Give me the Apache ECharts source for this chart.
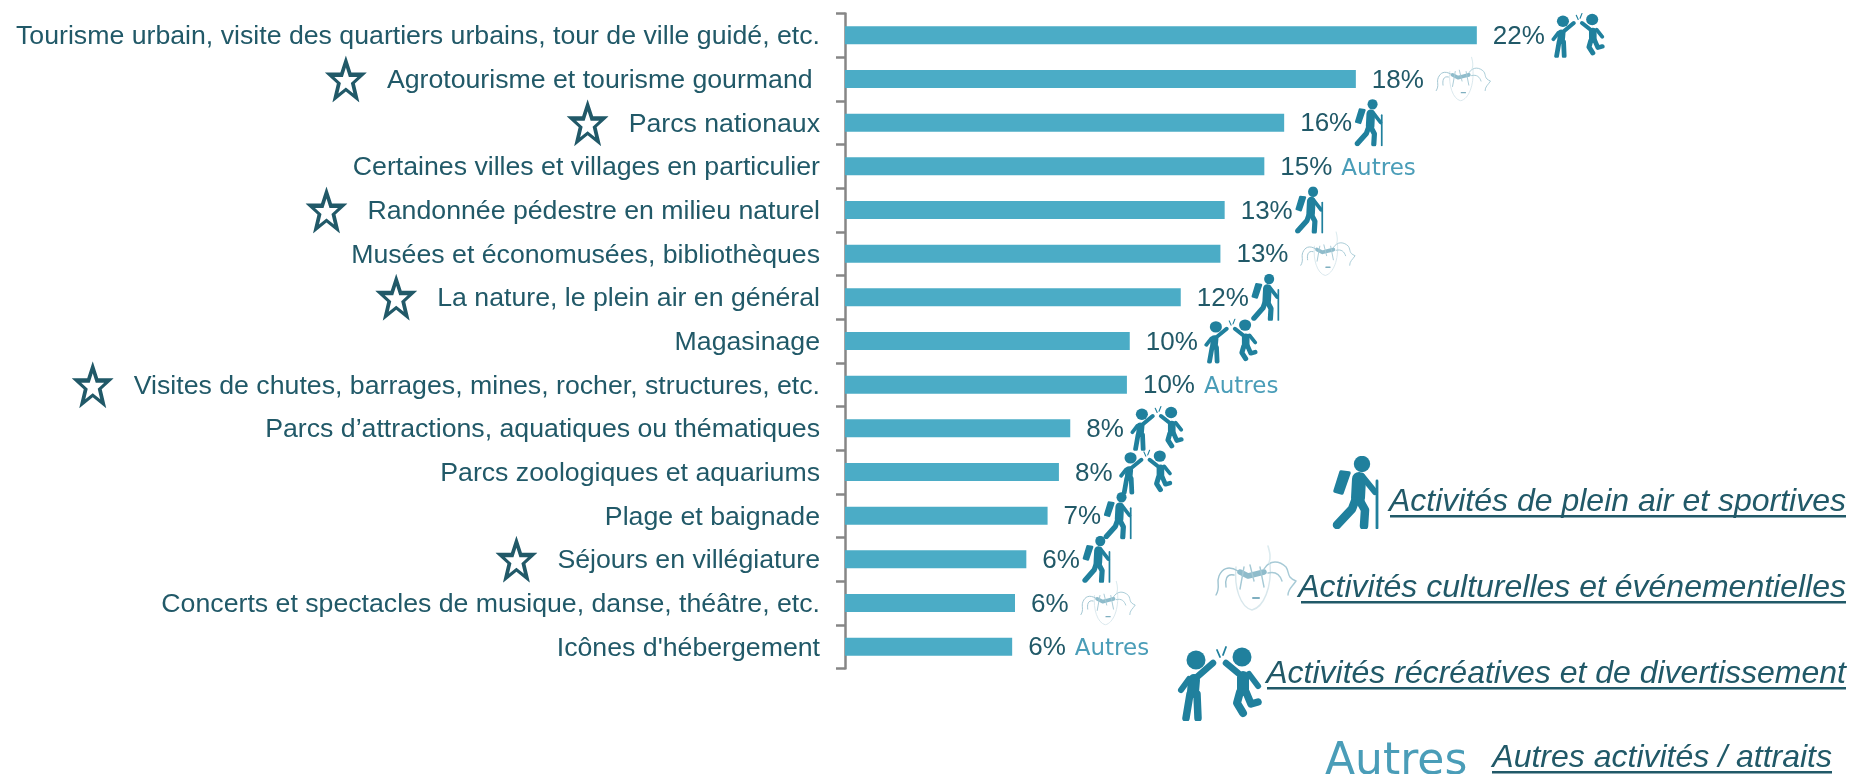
<!DOCTYPE html>
<html><head><meta charset="utf-8">
<style>html,body{margin:0;padding:0;background:#fff;overflow:hidden}#c{width:1851px;height:774px}</style>
<script src="https://cdn.jsdelivr.net/npm/echarts@6/dist/echarts.min.js"></script>
</head><body><div id="c"></div>
<script>
const categories = [
 "Tourisme urbain, visite des quartiers urbains, tour de ville guidé, etc.",
 "Agrotourisme et tourisme gourmand ",
 "Parcs nationaux",
 "Certaines villes et villages en particulier",
 "Randonnée pédestre en milieu naturel",
 "Musées et économusées, bibliothèques",
 "La nature, le plein air en général",
 "Magasinage",
 "Visites de chutes, barrages, mines, rocher, structures, etc.",
 "Parcs d’attractions, aquatiques ou thématiques",
 "Parcs zoologiques et aquariums",
 "Plage et baignade",
 "Séjours en villégiature",
 "Concerts et spectacles de musique, danse, théâtre, etc.",
 "Icônes d'hébergement"
];
const values = [22.3,18.03,15.5,14.8,13.4,13.25,11.85,10.05,9.95,7.95,7.55,7.15,6.4,6.0,5.9];
const valueLabels = ["22%","18%","16%","15%","13%","13%","12%","10%","10%","8%","8%","7%","6%","6%","6%"];
const iconKinds = ["fun","culture","hike","other","hike","culture","hike","fun","other","fun","fun","hike","hike","culture","other"];
const starred = [1,4,2,6,8,12];
const legendLabels = ["Activités de plein air et sportives","Activités culturelles et événementielles","Activités récréatives et de divertissement","Autres activités / attraits"];

const dark = "#215968", bar = "#4BACC6", iconC = "#20809d";
const svg = s => "data:image/svg+xml;charset=utf-8," + encodeURIComponent(s);
const hikeSvg = svg(`<svg xmlns="http://www.w3.org/2000/svg" viewBox="0 0 49 73" width="98" height="146"><g fill="none" stroke="${iconC}" stroke-linecap="round" stroke-linejoin="round"><path d="M27 23L26 42" stroke-width="14"/><path d="M30 20L43 36" stroke-width="6"/><path d="M23 45L20 53L5 69" stroke-width="8.500"/><path d="M28 45L33 54L32 70" stroke-width="8.500"/><path d="M45 25V72" stroke-width="2.8"/><path d="M9 16L17 17L10 37L3 35Z" fill="${iconC}" stroke-width="3.500"/></g><circle cx="30" cy="8" r="8.2" fill="${iconC}"/></svg>`);
const funSvg = svg(`<svg xmlns="http://www.w3.org/2000/svg" viewBox="0 0 85 75" width="170" height="150"><g fill="none" stroke="${iconC}" stroke-linecap="round" stroke-linejoin="round"><path d="M17 34L16 46" stroke-width="12"/><path d="M13 48L9 72" stroke-width="7.500"/><path d="M20 48L21 72" stroke-width="7.500"/><path d="M20 31L36 17" stroke-width="6.500"/><path d="M12 33L4 44" stroke-width="6"/><path d="M66 31L66 44" stroke-width="12"/><path d="M61 27L49 17" stroke-width="6.500"/><path d="M72 28L81 40" stroke-width="6"/><path d="M63 46L60 57L66 67" stroke-width="8"/><path d="M69 46L74 58L81 56" stroke-width="7.500"/><path d="M40 4L43 11M49 1L46 9" stroke-width="1.8"/></g><circle cx="19" cy="14" r="9.500" fill="${iconC}"/><circle cx="65" cy="11" r="9.500" fill="${iconC}"/></svg>`);
const cultureSvg = svg(`<svg xmlns="http://www.w3.org/2000/svg" viewBox="0 0 84 66" width="168" height="132"><g fill="none" stroke-linecap="round" stroke-linejoin="round"><path d="M22 22C20 42 26 62 38 65C50 62 58 42 56 18" stroke="#d8e7ec" stroke-width="1.4"/><path d="M24 26C14 20 8 24 5 31C2 38 7 42 2 50M20 30C12 28 11 36 12 42" stroke="#9fc4d1" stroke-width="1.4"/><path d="M50 24C56 14 66 16 72 22C76 28 72 32 82 36C78 42 74 44 74 50M54 28C62 26 66 30 68 36" stroke="#a7cad6" stroke-width="1.4"/><path d="M54 1C56 8 57 12 55 18" stroke="#dcebef" stroke-width="1.6"/><path d="M26 27L34 31L42 29L50 27" stroke="#8fbccb" stroke-width="5.500"/><path d="M36 20L40 36M30 22L26 44M46 22L50 42" stroke="#a5c9d5" stroke-width="1.4"/><path d="M39 53L45 53" stroke="#7fafc0" stroke-width="2"/></g></svg>`);
const starSvg = svg(`<svg xmlns="http://www.w3.org/2000/svg" viewBox="0 0 42 47" width="84" height="94"><path d="M21 0L26.5 17H42L30 28L34.5 47L21 36L7.5 47L12 28L0 17H15.500Z" fill="${dark}"/><path d="M21 12L24 21.500H32.500L26 27.500L28.500 38L21 32L13.500 38L16 27.500L9.500 21.500H18Z" fill="#fff"/></svg>`);

const rich = {
  v:{fontSize:26,color:dark,fontFamily:"Liberation Sans",padding:[3,0,0,0]},
  fun:{width:54,height:45,backgroundColor:{image:funSvg}},
  hike:{width:30,height:47,backgroundColor:{image:hikeSvg}},
  culture:{width:57,height:45,backgroundColor:{image:cultureSvg}},
  other:{fontSize:23,color:"#4a9db8",fontFamily:"DejaVu Sans",padding:[5,0,0,0]},
  gfun:{width:6},ghike:{width:2},gculture:{width:11},gother:{width:9}
};
const labelFor = i => {
  const k = iconKinds[i];
  const icon = k === "other" ? "{other|Autres}" : `{${k}|}`;
  return `{v|${valueLabels[i]}}{g${k}|}${icon}`;
};
const legendY = [515,601,687,771];
const legendX = [1390,1301,1267,1492];
const legendEnd = [1846,1846,1846,1832];
const graphic = [];
legendLabels.forEach((t,i)=>{
  graphic.push({type:"text",x:legendEnd[i],y:legendY[i]+3,style:{text:t,align:"right",verticalAlign:"bottom",fill:dark,font:"italic 32px 'Liberation Sans'"}});
  graphic.push({type:"rect",shape:{x:legendX[i],y:legendY[i],width:legendEnd[i]-legendX[i],height:2.5},style:{fill:dark}});
});
graphic.push({type:"image",style:{image:hikeSvg,x:1332,y:456,width:49,height:73}});
graphic.push({type:"image",style:{image:cultureSvg,x:1214,y:545,width:84,height:66}});
graphic.push({type:"image",style:{image:funSvg,x:1177,y:646,width:85,height:75}});
graphic.push({type:"text",x:1325,y:741,style:{text:"Autres",fill:"#4a9db8",font:"44px 'DejaVu Sans'"}});

const chart = echarts.init(document.getElementById("c"),null,{renderer:"canvas"});
chart.setOption({
  animation:false,
  backgroundColor:"#fff",
  grid:{left:845,top:13.5,width:850,height:655,containLabel:false},
  xAxis:{type:"value",min:0,max:30,show:false,splitLine:{show:false}},
  yAxis:{type:"category",inverse:true,data:categories,
    axisLine:{show:true,lineStyle:{color:"#868686",width:2.5}},
    axisTick:{show:true,length:9,lineStyle:{color:"#868686",width:2.5}},
    axisLabel:{margin:25,color:dark,fontSize:26.7,fontFamily:"Liberation Sans",
      formatter:(v,i)=> starred.includes(i) ? `{star|}{gap|}{t|${v}}` : `{t|${v}}`,
      rich:{t:{fontSize:26.7,color:dark,fontFamily:"Liberation Sans",padding:[3,0,0,0]},star:{width:42,height:47,backgroundColor:{image:starSvg}},gap:{width:20}}
    }},
  series:[{type:"bar",data:values,barWidth:18,itemStyle:{color:bar},
    label:{show:true,position:"right",distance:16,formatter:p=>labelFor(p.dataIndex),rich}}],
  graphic
});
</script></body></html>
